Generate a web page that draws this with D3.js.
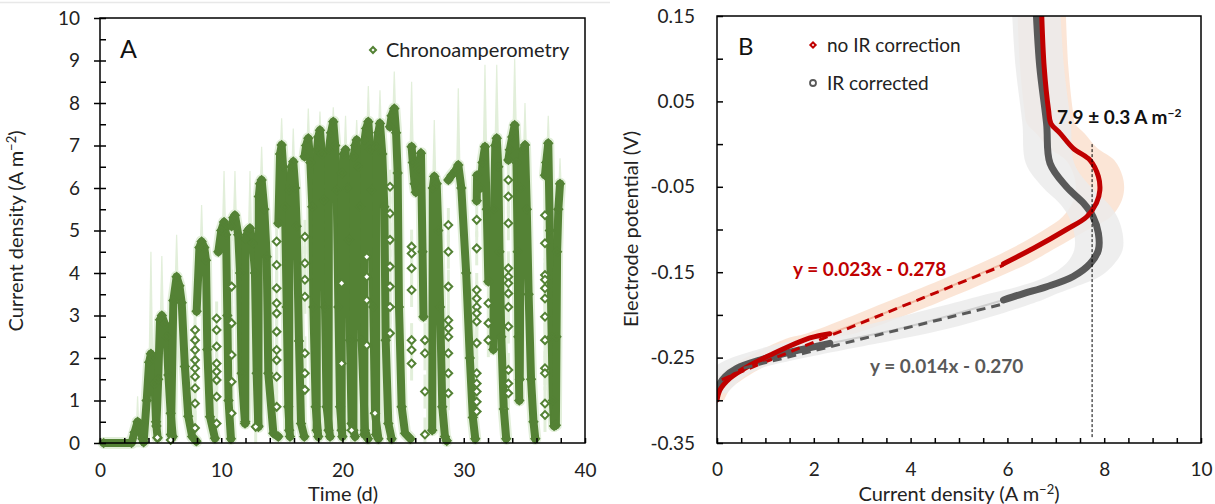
<!DOCTYPE html>
<html>
<head>
<meta charset="utf-8">
<script src="https://d3js.org/d3.v7.min.js"></script>
<style>
  body { margin: 0; background: #fff; }
  svg { font-family: Lato, "Open Sans", sans-serif; }
</style>
<script>
// ---- panel A : chronoamperometry, one array of (time, current) vertices per feed cycle
var cycT = [
  [0.3, 2.6, 2.85, 3.1, 3.3, 3.5, 3.6],
  [3.62, 3.85, 4.05, 4.2, 4.35, 4.5, 4.62, 4.75],
  [4.65, 4.8, 4.95, 5.1, 5.35, 5.5, 5.64, 5.83, 6.0],
  [5.85, 6.05, 6.32, 6.55, 6.74, 7.0, 7.28, 7.6, 7.95],
  [7.97, 8.2, 8.38, 8.6, 8.74, 8.85, 9.07, 9.48],
  [9.76, 10.0, 10.23, 10.4, 10.5, 10.6, 10.8],
  [10.85, 11.0, 11.13, 11.4, 11.55, 11.68, 11.96],
  [11.98, 12.0, 12.2, 12.37, 12.6, 12.78, 12.92, 13.06],
  [13.06, 13.1, 13.2, 13.33, 13.55, 13.75, 13.88, 14.3, 14.7],
  [14.71, 14.85, 14.98, 15.1, 15.26, 15.4, 15.53, 15.67],
  [15.6, 15.62, 15.8, 15.94, 16.1, 16.22, 16.41, 16.58, 16.85],
  [16.87, 17.0, 17.18, 17.35, 17.51, 17.6, 17.79, 18.0],
  [17.87, 17.9, 18.0, 18.14, 18.3, 18.47, 18.56, 18.69, 18.97],
  [18.85, 18.88, 19.05, 19.24, 19.4, 19.52, 19.66, 19.8, 19.99],
  [19.93, 19.95, 20.1, 20.25, 20.4, 20.53, 20.62, 20.75, 21.03],
  [20.9, 20.92, 21.05, 21.17, 21.3, 21.44, 21.58, 21.85, 22.1],
  [21.8, 21.82, 21.95, 22.13, 22.28, 22.4, 22.54, 22.68, 22.96],
  [22.77, 22.79, 22.95, 23.09, 23.28, 23.45, 23.56, 23.78, 24.05],
  [23.92, 24.05, 24.27, 24.42, 24.55, 24.66, 24.88, 25.16, 25.6],
  [25.7, 25.8, 25.95, 26.05, 26.3, 26.47, 26.6, 26.68],
  [27.4, 27.45, 27.57, 27.77, 27.9, 28.05, 28.23, 28.45, 28.6],
  [28.73, 29.0, 29.3, 29.55, 29.8, 30.2, 30.5, 30.75, 30.95],
  [31.07, 31.1, 31.4, 31.55, 31.75, 31.9, 32.03],
  [32.44, 32.5, 32.6, 32.72, 32.85, 32.95, 33.1, 33.3, 33.5],
  [33.68, 33.8, 34.0, 34.2, 34.35, 34.45, 34.5, 34.58],
  [34.62, 34.7, 34.9, 35.05, 35.2, 35.35, 35.55, 35.75, 35.9],
  [36.7, 36.8, 36.97, 37.1, 37.25, 37.35, 37.45],
  [37.6, 37.65, 37.7, 37.8, 37.94]
];
var cycJ = [
  [0, 0, 0.25, 0.5, 0.45, 0.1, 0.02],
  [0.1, 1.0, 1.9, 2.1, 2.0, 1.4, 0.5, 0.12],
  [0.4, 1.5, 2.9, 3.0, 2.8, 2.5, 1.6, 0.7, 0.15],
  [0.2, 3.35, 3.91, 3.7, 3.3, 1.8, 0.63, 0.15, 0.04],
  [3.1, 4.6, 4.74, 4.6, 4.3, 2.2, 0.62, 0.11],
  [4.5, 5.0, 5.2, 4.9, 3.0, 1.0, 0.1],
  [5.1, 5.3, 5.36, 4.9, 4.0, 1.64, 0.46],
  [0.5, 4.8, 5.0, 5.05, 4.7, 4.0, 1.64, 0.38],
  [0.4, 5.8, 6.1, 6.19, 5.5, 4.38, 1.64, 0.23, 0.15],
  [5.17, 6.8, 7.01, 6.5, 5.56, 3.2, 0.85, 0.15],
  [0.3, 5.95, 6.5, 6.62, 6.0, 5.1, 2.4, 0.46, 0.15],
  [6.74, 7.0, 7.17, 6.6, 5.56, 3.2, 0.85, 0.15],
  [0.3, 6.9, 7.2, 7.36, 6.8, 5.72, 3.2, 0.85, 0.15],
  [0.3, 6.9, 7.3, 7.56, 7.0, 5.95, 3.2, 0.85, 0.15],
  [0.3, 6.35, 6.8, 6.9, 6.0, 4.78, 2.42, 0.46, 0.15],
  [0.3, 6.74, 7.0, 7.13, 6.5, 5.56, 2.42, 0.3, 0.1],
  [0.2, 7.13, 7.4, 7.56, 6.9, 5.95, 3.2, 0.7, 0.1],
  [0.2, 6.97, 7.3, 7.52, 6.8, 5.56, 2.42, 0.46, 0.1],
  [7.44, 7.7, 7.87, 7.3, 6.35, 3.2, 0.85, 0.23, 0.1],
  [6.97, 6.6, 6.1, 5.9, 6.4, 6.82, 4.5, 2.97],
  [0.3, 6.0, 6.27, 6.1, 5.0, 3.2, 0.85, 0.15, 0.05],
  [6.19, 6.3, 6.4, 6.54, 6.0, 4.0, 2.0, 0.6, 0.1],
  [5.7, 6.3, 6.0, 6.6, 6.97, 5.5, 3.8],
  [2.2, 5.5, 7.0, 7.17, 6.5, 4.5, 2.5, 0.8, 0.1],
  [6.66, 6.9, 7.2, 7.48, 6.6, 4.5, 2.5, 1.0],
  [1.5, 6.0, 6.9, 7.01, 5.5, 3.5, 1.5, 0.5, 0.1],
  [6.3, 6.6, 7.05, 5.0, 2.5, 1.0, 0.4],
  [0.42, 2.5, 4.5, 5.5, 6.1]
];
// top of the light error shading above each cycle peak
var cycErr = [1.1, 4.5, 4.4, 4.9, 5.6, 6.4, 6.4, 6.4, 6.97, 7.64, 7.4, 7.87, 7.8, 7.9,
              7.7, 7.6, 8.4, 8.3, 8.74, 8.5, 7.6, 8.35, 8.9, 8.9, 9.05, 8.0, 7.7, 6.7];

// isolated points (fast rises / drops)
var scatT = [4.73, 5.83,
  7.84, 7.84, 7.84, 7.84, 7.84, 7.84, 7.84, 7.84, 7.84,
  9.62, 9.62, 9.62, 9.62, 9.62, 9.62, 9.62, 9.62,
  10.86, 10.86, 10.86, 10.86, 10.86, 12.84,
  14.57, 14.57, 14.57, 14.57, 14.57, 14.57, 14.57, 14.57, 14.57, 14.57,
  16.9, 16.9, 16.9, 16.9, 16.9, 16.9, 16.9,
  19.93, 19.93, 20.75, 22.0, 22.0, 22.0, 22.0, 22.68,
  23.92, 23.92, 23.92, 23.92, 23.92, 23.92, 23.92,
  25.7, 25.7, 25.7, 25.7, 25.7, 25.7, 25.7,
  26.8, 26.8, 26.8, 26.8,
  28.73, 28.73, 28.73, 28.73, 28.73, 28.73, 28.73, 28.73, 28.73,
  31.07, 31.07, 31.07, 31.07, 31.07, 31.07, 31.07, 31.07, 31.07, 31.07, 31.07, 31.07, 31.07,
  32.03, 32.03, 32.03,
  33.68, 33.68, 33.68, 33.68, 33.68, 33.68, 33.68, 33.68, 33.68, 33.68, 33.68, 33.68,
  36.7, 36.7, 36.7, 36.7, 36.7, 36.7, 36.7, 36.7, 36.7, 36.7, 36.7, 36.7];
var scatJ = [0.13, 0.07,
  2.66, 2.42, 2.19, 1.95, 1.76, 1.56, 1.29, 0.93, 0.35,
  2.93, 2.66, 2.27, 1.87, 1.68, 1.48, 1.09, 0.46,
  3.68, 2.82, 2.07, 1.44, 0.7, 0.38,
  4.74, 4.19, 3.64, 3.29, 3.05, 2.62, 2.19, 1.95, 1.56, 0.85,
  4.85, 4.23, 3.84, 3.44, 2.11, 1.64, 1.25,
  3.76, 1.87, 0.3, 4.38, 3.91, 3.36, 2.3, 0.7,
  6.03, 5.4, 4.78, 4.15, 3.68, 3.2, 2.58,
  4.62, 4.46, 4.11, 3.6, 2.42, 2.19, 1.87,
  2.42, 2.11, 1.21, 0.2,
  5.13, 4.5, 3.68, 2.89, 2.7, 2.5, 2.11, 1.64, 1.17,
  5.25, 4.58, 3.6, 3.4, 3.2, 3.05, 2.86, 2.35, 1.64, 1.4, 1.21, 0.97, 0.74,
  3.29, 2.82, 2.42,
  6.19, 5.8, 5.17, 4.11, 3.91, 3.76, 3.52, 3.2, 2.74, 1.72, 1.4, 1.17,
  5.36, 4.7, 3.95, 3.84, 3.64, 3.4, 2.97, 2.42, 1.76, 1.64, 0.93, 0.66];

var ticksA_x = [0, 10, 20, 30, 40];
var ticksA_y = [0, 1, 2, 3, 4, 5, 6, 7, 8, 9, 10];

// ---- panel B : polarisation curves (current density, potential, error in current)
var redC = [6.71, 6.76, 6.85, 6.90, 7.09, 7.36, 7.71, 7.88, 7.91, 7.84, 7.64, 7.22, 6.54, 5.92, 4.0, 2.33, 1.92, 1.1, 0.68, 0.27, 0.06, 0.0];
var redE = [0.15, 0.09, 0.04, 0.024, 0.0126, -0.005, -0.019, -0.038, -0.054, -0.069, -0.085, -0.1, -0.122, -0.14, -0.186, -0.222, -0.227, -0.247, -0.259, -0.274, -0.288, -0.2996];
var redErr = [0.5, 0.5, 0.5, 0.5, 0.5, 0.5, 0.5, 0.5, 0.5, 0.5, 0.5, 0.45, 0.45, 0.5, 0.55, 0.5, 0.45, 0.4, 0.35, 0.3, 0.2, 0.15];

var grayC = [6.60, 6.67, 6.81, 6.88, 7.22, 7.57, 7.77, 7.88, 7.88, 7.71, 7.36, 6.81, 6.33, 5.92, 4.0, 2.33, 1.71, 0.89, 0.41, 0.17, 0.03, 0.0];
var grayE = [0.15, 0.09, 0.024, -0.0225, -0.05, -0.069, -0.085, -0.1045, -0.124, -0.14, -0.155, -0.167, -0.175, -0.1825, -0.213, -0.2333, -0.241, -0.2528, -0.2625, -0.2724, -0.284, -0.292];
var grayErr = [0.5, 0.5, 0.5, 0.5, 0.5, 0.5, 0.5, 0.5, 0.5, 0.5, 0.55, 0.6, 0.7, 0.8, 1.0, 1.0, 0.9, 0.7, 0.5, 0.4, 0.3, 0.2];

// linear fits of the ohmic region (red, gray)
var fitSlope = [0.023, 0.014];
var fitInt = [-0.278, -0.270];
var fitFrom = [0.1, 0.25];
var fitTo = [5.92, 5.92];
var fitLabels = ["y = 0.023x - 0.278", "y = 0.014x - 0.270"];

var peakC = 7.75;
var peakE = [0.0, -0.345];

var ticksB_x = [0, 2, 4, 6, 8, 10];
var ticksB_y = [0.15, 0.05, -0.05, -0.15, -0.25, -0.35];

var green = "#548235", greenLight = "#e2efda";
var red = "#c00000", gray = "#595959";


function render()
{
  var svg = d3.select("div#chartHere").append("svg")
      .attr("width", 1215).attr("height", 504);

  // faint line on top of panel A
  svg.append("line").attr("x1", 0).attr("x2", 610).attr("y1", 2.5).attr("y2", 2.5)
     .attr("stroke", "#e8e8e8").attr("stroke-width", 1.5);

  // ================= PANEL A
  var dimsA = {left: 100, right: 585, top: 18, bottom: 443};
  var xA = d3.scaleLinear().domain([0, 40]).range([dimsA.left, dimsA.right]);
  var yA = d3.scaleLinear().domain([0, 10]).range([dimsA.bottom, dimsA.top]);

  var cycles = cycT.map(function (ts, k) {
    return ts.map(function (t, i) { return [t, cycJ[k][i]]; });
  });
  var lineA = d3.line().x(function (d) { return xA(d[0]); }).y(function (d) { return yA(d[1]); });

  var gA = svg.append("g");

  // light error shading : halo + spike over each peak
  gA.selectAll("path.halo").data(cycles).enter().append("path")
     .attr("class", "halo").attr("d", lineA)
     .attr("fill", "none").attr("stroke", greenLight).attr("stroke-width", 12)
     .attr("stroke-linejoin", "round").attr("stroke-linecap", "round");

  gA.selectAll("path.spike").data(cycles).enter().append("path")
     .attr("class", "spike")
     .attr("d", function (c, k) {
        var pk = c.reduce(function (a, b) { return b[1] > a[1] ? b : a; });
        return lineA([[pk[0] - 0.22, pk[1] - 0.6], [pk[0] - 0.05, cycErr[k]], [pk[0] + 0.05, cycErr[k]], [pk[0] + 0.22, pk[1] - 0.6]]) + "Z";
     })
     .attr("fill", greenLight);

  // thin light error bars for isolated points
  gA.selectAll("line.ebar").data(scatT).enter().append("line")
     .attr("class", "ebar")
     .attr("x1", function (d) { return xA(d); }).attr("x2", function (d) { return xA(d); })
     .attr("y1", function (d, i) { return yA(Math.max(0, scatJ[i] - 0.4)); })
     .attr("y2", function (d, i) { return yA(scatJ[i] + 0.4); })
     .attr("stroke", greenLight).attr("stroke-width", 3);

  // dense data : thick dark line
  gA.selectAll("path.cyc").data(cycles).enter().append("path")
     .attr("class", "cyc").attr("d", lineA)
     .attr("fill", "none").attr("stroke", green).attr("stroke-width", 8)
     .attr("stroke-linejoin", "round").attr("stroke-linecap", "round");

  var diamond = d3.symbol().type(d3.symbolSquare).size(30);
  gA.selectAll("path.mk").data([].concat.apply([], cycles)).enter().append("path")
     .attr("class", "mk").attr("d", diamond)
     .attr("transform", function (d) { return "translate(" + xA(d[0]) + "," + yA(d[1]) + ") rotate(45)"; })
     .attr("fill", "none").attr("stroke", green).attr("stroke-width", 2);
  gA.selectAll("path.sc").data(scatT).enter().append("path")
     .attr("class", "sc").attr("d", diamond)
     .attr("transform", function (d, i) { return "translate(" + xA(d) + "," + yA(scatJ[i]) + ") rotate(45)"; })
     .attr("fill", "#fff").attr("stroke", green).attr("stroke-width", 2);

  // axes A
  var ayL = svg.append("g").attr("transform", "translate(" + dimsA.left + ",0)")
     .call(d3.axisLeft(yA).tickValues(ticksA_y).tickSize(6).tickPadding(14));
  var ayR = svg.append("g").attr("transform", "translate(" + dimsA.left + ",0)")
     .call(d3.axisRight(yA).tickValues(d3.range(0, 10.01, 0.5)).tickSize(6).tickFormat(""));
  var axB = svg.append("g").attr("transform", "translate(0," + dimsA.bottom + ")")
     .call(d3.axisBottom(xA).tickValues(ticksA_x).tickSize(0).tickPadding(21));
  var axT = svg.append("g").attr("transform", "translate(0," + dimsA.bottom + ")")
     .call(d3.axisTop(xA).tickValues(d3.range(0, 40.01, 2)).tickSize(5).tickFormat(""));

  svg.append("rect").attr("x", dimsA.left).attr("y", dimsA.top)
     .attr("width", dimsA.right - dimsA.left).attr("height", dimsA.bottom - dimsA.top)
     .attr("fill", "none").attr("stroke", "#000").attr("stroke-width", 1.5);

  svg.append("text").attr("x", 120).attr("y", 58).attr("font-size", 25).attr("fill", "#111").text("A");

  svg.append("path").attr("d", d3.symbol().type(d3.symbolSquare).size(18))
     .attr("transform", "translate(373,50) rotate(45)")
     .attr("fill", "#fff").attr("stroke", green).attr("stroke-width", 2);
  svg.append("text").attr("x", 386).attr("y", 57).attr("font-size", 20).attr("fill", "#222").text("Chronoamperometry");

  svg.append("text").attr("x", 343).attr("y", 501).attr("text-anchor", "middle")
     .attr("font-size", 20).attr("fill", "#222").text("Time (d)");

  var tA = svg.append("text").attr("transform", "translate(23,231) rotate(-90)")
     .attr("text-anchor", "middle").attr("font-size", 20).attr("fill", "#222");
  tA.append("tspan").text("Current density (A m");
  tA.append("tspan").attr("dy", -7).attr("font-size", 13).text("\u22122");
  tA.append("tspan").attr("dy", 7).text(")");

  // ================= PANEL B
  var dimsB = {left: 717, right: 1201, top: 16, bottom: 443};
  var xB = d3.scaleLinear().domain([0, 10]).range([dimsB.left, dimsB.right]);
  var yB = d3.scaleLinear().domain([-0.35, 0.15]).range([dimsB.bottom, dimsB.top]);

  svg.append("clipPath").attr("id", "clipB").append("rect")
     .attr("x", dimsB.left).attr("y", dimsB.top)
     .attr("width", dimsB.right - dimsB.left).attr("height", dimsB.bottom - dimsB.top);
  var gB = svg.append("g").attr("clip-path", "url(#clipB)");

  var redPts = redC.map(function (c, i) { return {c: c, e: redE[i], s: redErr[i], i: i}; });
  var grayPts = grayC.map(function (c, i) { return {c: c, e: grayE[i], s: grayErr[i], i: i}; });

  var band = d3.area().curve(d3.curveCatmullRom)
     .y(function (d) { return yB(d.e); })
     .x0(function (d) { return xB(d.c - d.s); })
     .x1(function (d) { return xB(d.c + d.s); });
  var lineB = d3.line().curve(d3.curveCatmullRom)
     .x(function (d) { return xB(d.c); }).y(function (d) { return yB(d.e); });

  gB.append("path").attr("d", band(redPts)).attr("fill", "#fbe2d2").attr("opacity", 0.9);
  gB.append("path").attr("d", band(grayPts)).attr("fill", "#ebebeb").attr("opacity", 0.85);

  // thin data under fitted range
  gB.append("path").attr("d", lineB(grayPts.slice(13, 16))).attr("fill", "none")
     .attr("stroke", "#cfcfcf").attr("stroke-width", 2);
  gB.append("path").attr("d", lineB(redPts.slice(13, 16))).attr("fill", "none")
     .attr("stroke", "#f0b8a0").attr("stroke-width", 2);

  [[grayPts, gray, 7], [redPts, red, 5]].forEach(function (s) {
    gB.append("path").attr("d", lineB(s[0].slice(0, 14))).attr("fill", "none")
       .attr("stroke", s[1]).attr("stroke-width", s[2]).attr("stroke-linecap", "round");
    gB.append("path").attr("d", lineB(s[0].slice(15))).attr("fill", "none")
       .attr("stroke", s[1]).attr("stroke-width", s[2]).attr("stroke-linecap", "round");
  });

  // fitted lines
  [red, gray].forEach(function (col, k) {
    gB.append("line")
       .attr("x1", xB(fitFrom[k])).attr("y1", yB(fitSlope[k] * fitFrom[k] + fitInt[k]))
       .attr("x2", xB(fitTo[k])).attr("y2", yB(fitSlope[k] * fitTo[k] + fitInt[k]))
       .attr("stroke", col).attr("stroke-width", 3).attr("stroke-dasharray", "9,6");
  });

  // peak marker
  svg.append("line").attr("x1", xB(peakC)).attr("x2", xB(peakC))
     .attr("y1", yB(peakE[0])).attr("y2", yB(peakE[1]))
     .attr("stroke", "#000").attr("stroke-width", 1).attr("stroke-dasharray", "3,2");

  var pk = svg.append("text").attr("x", 1057).attr("y", 124)
     .attr("font-size", 19).attr("font-weight", "bold").attr("fill", "#111");
  pk.append("tspan").text("7.9 \u00b1 0.3 A m");
  pk.append("tspan").attr("dy", -7).attr("font-size", 12).text("\u22122");

  svg.append("text").attr("x", 793).attr("y", 276).attr("font-size", 19)
     .attr("font-weight", "bold").attr("fill", red).text(fitLabels[0]);
  svg.append("text").attr("x", 870).attr("y", 373).attr("font-size", 19)
     .attr("font-weight", "bold").attr("fill", gray).text(fitLabels[1]);

  // axes B
  var byL = svg.append("g").attr("transform", "translate(" + dimsB.left + ",0)")
     .call(d3.axisLeft(yB).tickValues(ticksB_y).tickSize(0).tickPadding(22)
           .tickFormat(function (d) { return d.toFixed(2); }));
  var byR = svg.append("g").attr("transform", "translate(" + dimsB.left + ",0)")
     .call(d3.axisRight(yB).tickValues(d3.range(-0.35, 0.151, 0.05)).tickSize(6).tickFormat(""));
  var bxB = svg.append("g").attr("transform", "translate(0," + dimsB.bottom + ")")
     .call(d3.axisBottom(xB).tickValues(ticksB_x).tickSize(0).tickPadding(20));
  var bxT = svg.append("g").attr("transform", "translate(0," + dimsB.bottom + ")")
     .call(d3.axisTop(xB).tickValues(d3.range(0, 10.01, 0.5)).tickSize(5).tickFormat(""));

  svg.append("rect").attr("x", dimsB.left).attr("y", dimsB.top)
     .attr("width", dimsB.right - dimsB.left).attr("height", dimsB.bottom - dimsB.top)
     .attr("fill", "none").attr("stroke", "#000").attr("stroke-width", 1.5);

  svg.append("text").attr("x", 738).attr("y", 55).attr("font-size", 24).attr("fill", "#111").text("B");

  svg.append("path").attr("d", d3.symbol().type(d3.symbolSquare).size(14))
     .attr("transform", "translate(813,45) rotate(45)")
     .attr("fill", "#fff").attr("stroke", red).attr("stroke-width", 2);
  svg.append("text").attr("x", 827).attr("y", 52).attr("font-size", 19).attr("fill", "#222").text("no IR correction");
  svg.append("circle").attr("cx", 813).attr("cy", 83).attr("r", 3)
     .attr("fill", "#fff").attr("stroke", gray).attr("stroke-width", 1.8);
  svg.append("text").attr("x", 827).attr("y", 90).attr("font-size", 19).attr("fill", "#222").text("IR corrected");

  var tB = svg.append("text").attr("x", 959).attr("y", 501)
     .attr("text-anchor", "middle").attr("font-size", 20).attr("fill", "#222");
  tB.append("tspan").text("Current density (A m");
  tB.append("tspan").attr("dy", -7).attr("font-size", 13).text("\u22122");
  tB.append("tspan").attr("dy", 7).text(")");

  svg.append("text").attr("transform", "translate(638,229) rotate(-90)")
     .attr("text-anchor", "middle").attr("font-size", 20).attr("fill", "#222")
     .text("Electrode potential (V)");

  // common axis styling
  [ayL, ayR, axB, axT, byL, byR, bxB, bxT].forEach(function (g) {
    g.attr("font-family", null).attr("font-size", 19).attr("color", "#000");
    g.select(".domain").remove();
    g.selectAll("line").attr("stroke-width", 1.5);
    g.selectAll("text").attr("fill", "#222");
  });
}
</script>
</head>
<body onload="render()">
<div id="chartHere"></div>
</body>
</html>
